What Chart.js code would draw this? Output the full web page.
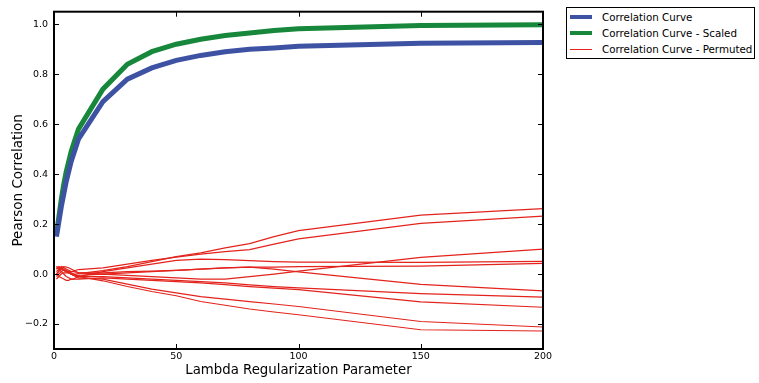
<!DOCTYPE html>
<html>
<head>
<meta charset="utf-8">
<script src="https://cdn.jsdelivr.net/npm/chart.js@4/dist/chart.umd.min.js"></script>
<style>
  html,body{margin:0;padding:0;background:#fff;}
  #wrap{position:relative;width:759px;height:383px;}
  #legend{position:absolute;left:566px;top:7px;width:189px;height:52px;border:1.5px solid #000;background:#fff;
    font:10.3px "DejaVu Sans",sans-serif;color:#000;box-sizing:border-box;padding-top:1px;white-space:nowrap;}
  #legend .row{display:flex;align-items:center;height:16px;}
  #legend .sw{width:22px;margin:0 10px 0 3px;}
</style>
</head>
<body>
<div id="wrap">
  <canvas id="c" width="759" height="383"></canvas>
  <div id="legend"></div>
</div>
<script>
// ===== Data =====
const lambdas = [1,2,3,4,5,6,7,8,9,10,20,30,40,50,60,70,80,90,100,150,200];
const curve   = [0.15,0.21,0.27,0.32,0.37,0.41,0.45,0.48,0.51,0.54,0.69,0.78,0.825,0.855,0.875,0.89,0.9,0.905,0.912,0.924,0.927];
const scaled  = [0.16,0.23,0.30,0.36,0.41,0.45,0.49,0.52,0.55,0.58,0.74,0.84,0.89,0.92,0.94,0.955,0.965,0.975,0.982,0.995,0.998];
const permuted = [
  [0.0,0.01,0.02,0.015,0.01,0.005,0.0,0.0,0.0,0.002,0.014,0.03,0.05,0.07,0.085,0.105,0.122,0.15,0.174,0.236,0.262],
  [0.02,0.025,0.02,0.015,0.01,0.01,0.01,0.012,0.015,0.018,0.025,0.04,0.055,0.068,0.08,0.09,0.098,0.12,0.141,0.203,0.232],
  [-0.01,0.0,0.01,0.015,0.01,0.005,0.0,-0.005,-0.005,-0.005,0.0,-0.005,-0.01,-0.015,-0.02,-0.02,-0.01,0.0,0.012,0.067,0.1],
  [0.03,0.02,0.01,0.0,-0.01,-0.015,-0.02,-0.02,-0.015,-0.01,0.01,0.025,0.04,0.055,0.06,0.058,0.054,0.05,0.048,0.047,0.051],
  [0.0,0.015,0.025,0.03,0.028,0.025,0.02,0.015,0.01,0.005,0.0,0.005,0.01,0.015,0.02,0.025,0.028,0.028,0.03,0.032,0.043],
  [0.01,0.02,0.03,0.025,0.02,0.015,0.01,0.01,0.008,0.005,0.005,0.01,0.012,0.015,0.02,0.025,0.028,0.02,0.009,-0.041,-0.067],
  [-0.02,-0.01,0.0,0.005,0.005,0.005,0.0,-0.005,-0.01,-0.01,-0.01,-0.015,-0.02,-0.025,-0.03,-0.035,-0.043,-0.05,-0.055,-0.078,-0.092],
  [0.0,-0.01,-0.015,-0.02,-0.025,-0.025,-0.02,-0.02,-0.02,-0.02,-0.015,-0.02,-0.025,-0.03,-0.035,-0.042,-0.05,-0.056,-0.062,-0.111,-0.133],
  [0.03,0.025,0.02,0.015,0.01,0.005,0.0,-0.005,-0.01,-0.015,-0.02,-0.04,-0.06,-0.075,-0.09,-0.1,-0.11,-0.12,-0.13,-0.19,-0.212],
  [0.02,0.03,0.025,0.02,0.015,0.01,0.005,0.0,-0.005,-0.01,-0.027,-0.05,-0.07,-0.087,-0.11,-0.125,-0.14,-0.152,-0.163,-0.223,-0.228]
];
const xTicks = [0,50,100,150,200];
const yTicks = [-0.2,0.0,0.2,0.4,0.6,0.8,1.0];
const labels = ['Correlation Curve','Correlation Curve - Scaled','Correlation Curve - Permuted'];

// ===== Style =====
const BLUE='#3e52a3', GREEN='#17873b', RED='#e3231c';
const FONT='"DejaVu Sans", sans-serif';
const pts = ys => lambdas.map((x,i)=>({x, y:ys[i]}));
const fmtY = v => (v<0?'\u2212':'')+Math.abs(v).toFixed(1);

// ===== Datasets =====
const datasets = [
  ...permuted.map(p=>({data:pts(p), borderColor:RED, borderWidth:1.2})),
  {data:pts(curve),  borderColor:BLUE,  borderWidth:5},
  {data:pts(scaled), borderColor:GREEN, borderWidth:5}
];

// frame + inward ticks, matplotlib look
const frame = {
  id:'frame',
  afterDatasetsDraw(chart){
    const {ctx, chartArea:a, scales:{x,y}} = chart;
    ctx.save();
    ctx.strokeStyle='#000'; ctx.lineWidth=1;
    xTicks.forEach(v=>{
      const px=Math.round(x.getPixelForValue(v))+0.5;
      ctx.beginPath(); ctx.moveTo(px,a.bottom); ctx.lineTo(px,a.bottom-5);
      ctx.moveTo(px,a.top); ctx.lineTo(px,a.top+5); ctx.stroke();
    });
    yTicks.forEach(v=>{
      const py=Math.round(y.getPixelForValue(v))+0.5;
      ctx.beginPath(); ctx.moveTo(a.left,py); ctx.lineTo(a.left+5,py);
      ctx.moveTo(a.right,py); ctx.lineTo(a.right-5,py); ctx.stroke();
    });
    ctx.lineWidth=2;
    ctx.strokeRect(a.left, a.top, a.right-a.left, a.bottom-a.top);
    ctx.restore();
  }
};

new Chart(document.getElementById('c'), {
  type:'line',
  data:{datasets},
  options:{
    responsive:false, animation:false,
    layout:{padding:{left:0, right:216, top:8, bottom:0}},
    elements:{point:{radius:0}, line:{tension:0}},
    plugins:{legend:{display:false}, tooltip:{enabled:false}},
    scales:{
      x:{
        type:'linear', min:0, max:200,
        afterBuildTicks: s=>{ s.ticks = xTicks.map(v=>({value:v})); },
        afterFit: s=>{ s.height = 34; },
        grid:{display:false, drawTicks:false}, border:{display:false},
        ticks:{color:'#000', font:{family:FONT, size:9.5}, padding:2, maxRotation:0},
        title:{display:true, text:'Lambda Regularization Parameter', color:'#000', font:{family:FONT, size:13.3}, padding:{top:0, bottom:4}}
      },
      y:{
        type:'linear', min:-0.3, max:1.05,
        afterBuildTicks: s=>{ s.ticks = yTicks.map(v=>({value:v})); },
        afterFit: s=>{ s.width = 54; },
        grid:{display:false, drawTicks:false}, border:{display:false},
        ticks:{color:'#000', font:{family:FONT, size:9.5}, padding:6, callback:v=>fmtY(v)},
        title:{display:true, text:'Pearson Correlation', color:'#000', font:{family:FONT, size:13.5}, padding:{top:10, bottom:4}}
      }
    }
  },
  plugins:[frame]
});

// ===== Legend =====
const lg = document.getElementById('legend');
[[BLUE,4],[GREEN,4],[RED,1]].forEach(([c,w],i)=>{
  const row=document.createElement('div'); row.className='row';
  row.innerHTML=`<div class="sw" style="height:${w}px;background:${c}"></div><span>${labels[i]}</span>`;
  lg.appendChild(row);
});
</script>
</body>
</html>
